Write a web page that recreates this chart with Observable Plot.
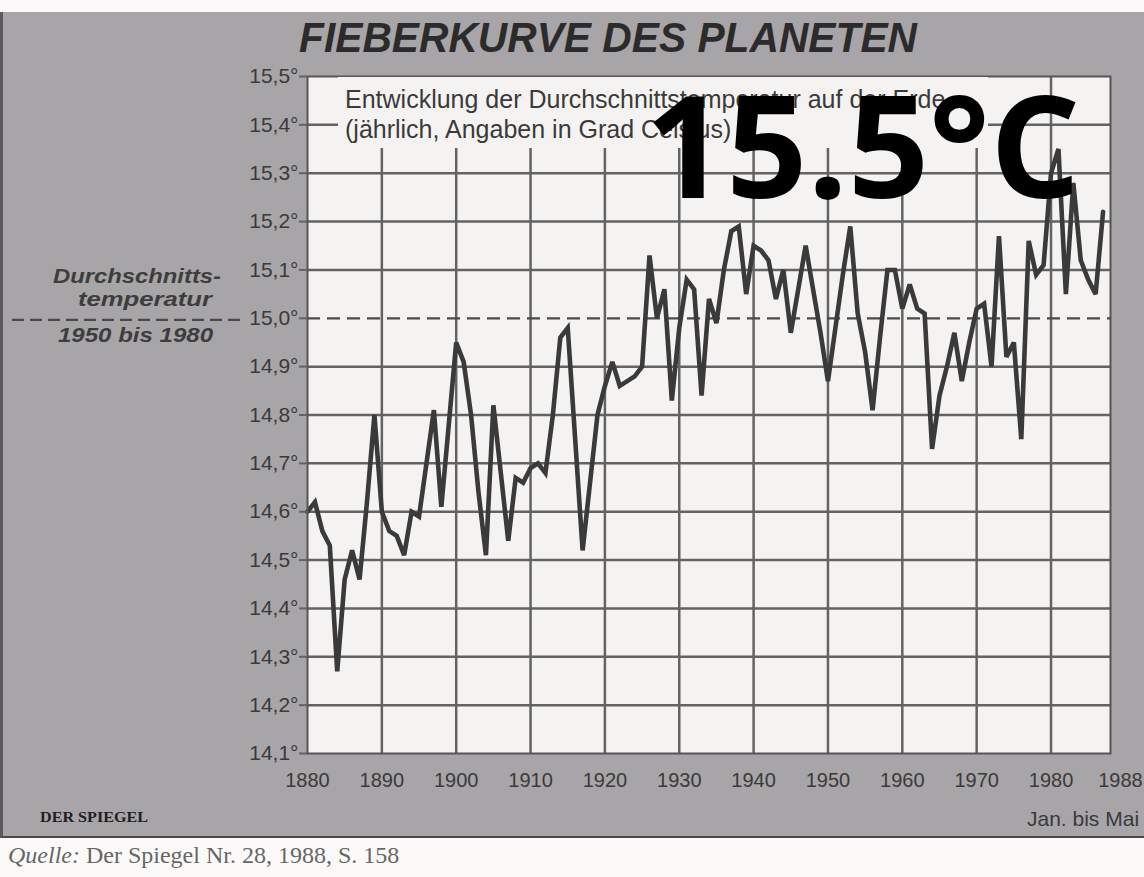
<!DOCTYPE html>
<html><head><meta charset="utf-8">
<script src="https://cdn.jsdelivr.net/npm/d3@7"></script>
<script src="https://cdn.jsdelivr.net/npm/@observablehq/plot@0.6"></script>
<style>
html,body{margin:0;padding:0;}
body{width:1144px;height:877px;position:relative;overflow:hidden;background:#fbfaf8;}
#panel{position:absolute;left:0;top:12px;width:1144px;height:826px;background:#a7a5a7;border-left:3px solid #5a5a5a;border-bottom:2px solid #4a4a4a;box-sizing:border-box;}
#chart,#over{position:absolute;left:0;top:0;}
</style></head><body>
<div id="panel"></div>
<div id="chart"></div>
<svg id="over" width="1144" height="877"></svg>
<script>
// ---- data ----
const firstYear = 1880;
const temps = [
 14.60,14.62,14.56,14.53,14.27,14.46,14.52,14.46,14.62,14.80, // 1880s
 14.60,14.56,14.55,14.51,14.60,14.59,14.70,14.81,14.61,14.78, // 1890s
 14.95,14.91,14.80,14.64,14.51,14.82,14.68,14.54,14.67,14.66, // 1900s
 14.69,14.70,14.68,14.80,14.96,14.98,14.75,14.52,14.66,14.80, // 1910s
 14.86,14.91,14.86,14.87,14.88,14.90,15.13,15.00,15.06,14.83, // 1920s
 14.98,15.08,15.06,14.84,15.04,14.99,15.10,15.18,15.19,15.05, // 1930s
 15.15,15.14,15.12,15.04,15.10,14.97,15.06,15.15,15.06,14.97, // 1940s
 14.87,14.98,15.09,15.19,15.01,14.93,14.81,14.96,15.10,15.10, // 1950s
 15.02,15.07,15.02,15.01,14.73,14.84,14.90,14.97,14.87,14.95, // 1960s
 15.02,15.03,14.90,15.17,14.92,14.95,14.75,15.16,15.09,15.11, // 1970s
 15.30,15.35,15.05,15.28,15.12,15.08,15.05,15.22              // 1980-1987
];
const yTicks = [14.1,14.2,14.3,14.4,14.5,14.6,14.7,14.8,14.9,15.0,15.1,15.2,15.3,15.4,15.5];
const yGrid = [14.2,14.3,14.4,14.5,14.6,14.7,14.8,14.9,15.1,15.2,15.3,15.4];
const xTicks = [1880,1890,1900,1910,1920,1930,1940,1950,1960,1970,1980];
const xLastTick = [1988];
const xGrid = [1890,1900,1910,1920,1930,1940,1950,1960,1970,1980];
const meanTemp = 15.0;
const titleText = "FIEBERKURVE DES PLANETEN";
const subtitle1 = "Entwicklung der Durchschnittstemperatur auf der Erde";
const subtitle2 = "(jährlich, Angaben in Grad Celsius)";
const noteLines = ["Durchschnitts-", "temperatur", "1950 bis 1980"];
const bigLabel = "15.5°C";
const periodNote = "Jan. bis Mai";
const sourceLabel = "Quelle:";
const sourceText = " Der Spiegel Nr. 28, 1988, S. 158";
const logoText = "DER SPIEGEL";

const data = temps.map((t, i) => ({year: firstYear + i, temp: t}));
const fmt = d => d.toFixed(1).replace(".", ",") + "°";

const chart = Plot.plot({
  width: 1144, height: 877,
  marginLeft: 307, marginRight: 34, marginTop: 76, marginBottom: 124,
  x: {domain: [1880, 1988], label: null},
  y: {domain: [14.1, 15.5], label: null},
  style: {background: "transparent", fontFamily: "Liberation Sans, Arial, sans-serif", color: "#3a3a3a", overflow: "visible"},
  marks: [
    Plot.frame({fill: "#f5f3f1", stroke: "none"}),
    Plot.ruleY(yGrid, {stroke: "#636363", strokeWidth: 2.5}),
    Plot.ruleX(xGrid, {stroke: "#636363", strokeWidth: 2.5}),
    Plot.ruleY([meanTemp], {stroke: "#4a4a4a", strokeWidth: 2.3, strokeDasharray: "13,7"}),
    Plot.line(data, {x: "year", y: "temp", stroke: "#3a3a3a", strokeWidth: 4.6, strokeLinejoin: "miter", strokeMiterlimit: 3}),
    Plot.frame({stroke: "#555", strokeWidth: 2}),
    Plot.axisY(yTicks, {label: null, tickFormat: fmt, tickSize: 8, tickPadding: 1, stroke: "#636363", strokeWidth: 2, fontSize: 21, fill: "#3a3a3a"}),
    Plot.axisX(xTicks, {label: null, tickFormat: d => String(d), tickSize: 0, tickPadding: 19, fontSize: 20, fill: "#3a3a3a"}),
    Plot.axisX(xLastTick, {label: null, tickFormat: d => String(d), tickSize: 0, tickPadding: 19, fontSize: 20, fill: "#3a3a3a", dx: 10})
  ]
});
document.getElementById("chart").appendChild(chart);

const ys = chart.scale("y");
const y0 = ys.apply(meanTemp);
const yTop = ys.apply(15.5);
const over = d3.select("#over");

// title
over.append("text").attr("x", 299).attr("y", 52).text(titleText)
  .attr("font-family", "Liberation Sans, Arial, sans-serif").attr("font-weight", "bold").attr("font-style", "italic")
  .attr("font-size", 42).attr("fill", "#2b2b2b").attr("textLength", 618).attr("lengthAdjust", "spacingAndGlyphs");

// subtitle box
over.append("rect").attr("x", 338).attr("y", yTop + 1).attr("width", 650).attr("height", 71).attr("fill", "#f5f3f1");
over.append("text").attr("x", 345).attr("y", yTop + 32).text(subtitle1)
  .attr("font-family", "Liberation Sans, Arial, sans-serif").attr("font-size", 25).attr("fill", "#3a3a3a");
over.append("text").attr("x", 345).attr("y", yTop + 62).text(subtitle2)
  .attr("font-family", "Liberation Sans, Arial, sans-serif").attr("font-size", 25).attr("fill", "#3a3a3a");

// left annotation
const noteFont = "Liberation Sans, Arial, sans-serif";
const notes = [
  {t: noteLines[0], x: 53, y: y0 - 35, w: 168},
  {t: noteLines[1], x: 78, y: y0 - 12, w: 134},
  {t: noteLines[2], x: 58, y: y0 + 24, w: 155}
];
notes.forEach(n => over.append("text").attr("x", n.x).attr("y", n.y).text(n.t)
  .attr("font-family", noteFont).attr("font-weight", "bold").attr("font-style", "italic")
  .attr("font-size", 20).attr("fill", "#3d3d3d").attr("textLength", n.w).attr("lengthAdjust", "spacingAndGlyphs"));
over.append("line").attr("x1", 12).attr("x2", 244).attr("y1", y0 + 2).attr("y2", y0 + 2)
  .attr("stroke", "#4a4a4a").attr("stroke-width", 2.2).attr("stroke-dasharray", "12,6");

// big overlay label
over.append("text").attr("x", 645).attr("y", 198).text(bigLabel)
  .attr("font-family", "Open Sans, Noto Sans, sans-serif").attr("font-weight", 700)
  .attr("font-size", 142).attr("fill", "#000");

// bottom texts
over.append("text").attr("x", 1027).attr("y", 826).text(periodNote)
  .attr("font-family", "Liberation Sans, Arial, sans-serif").attr("font-size", 21).attr("fill", "#3a3a3a");
over.append("text").attr("x", 40).attr("y", 822).text(logoText)
  .attr("font-family", "Liberation Serif, serif").attr("font-weight", "bold").attr("font-size", 15)
  .attr("fill", "#1e1e1e").attr("textLength", 108).attr("lengthAdjust", "spacingAndGlyphs");
const src = over.append("text").attr("x", 8).attr("y", 863)
  .attr("font-family", "Liberation Serif, Times New Roman, serif").attr("font-size", 24).attr("fill", "#666");
src.append("tspan").attr("font-style", "italic").text(sourceLabel);
src.append("tspan").text(sourceText);
</script>
</body></html>
